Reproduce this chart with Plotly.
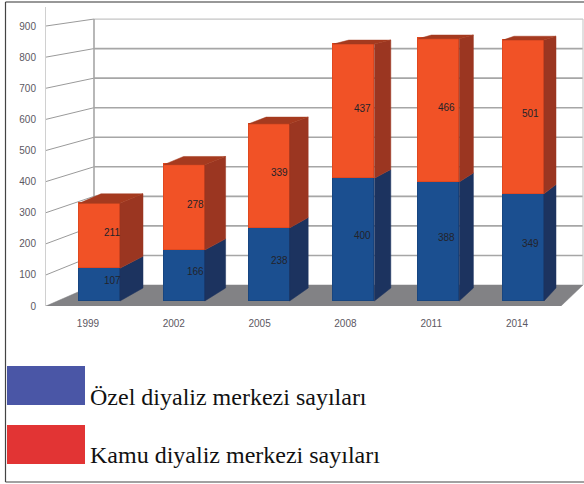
import plotly.graph_objects as go

years = ["1999", "2002", "2005", "2008", "2011", "2014"]
ozel = [107, 166, 238, 400, 388, 349]
kamu = [211, 278, 339, 437, 466, 501]
y_ticks = [0, 100, 200, 300, 400, 500, 600, 700, 800, 900]
legend_labels = ["Özel diyaliz merkezi sayıları", "Kamu diyaliz merkezi sayıları"]

W, H = 584, 484
BLUE, BLUE_SIDE = "#1b4f90", "#1c335f"
RED, RED_SIDE, RED_TOP = "#f15226", "#9b3621", "#a53a1f"
GRID = "#a6a6a6"
TICK = "#5c5862"
BAR_W = 41 / 84.8

FRONT_0, FRONT_K = 306, 0.3111   # axis plane: pixel of 0, pixels per unit
BACK_0, BACK_K = 285, 0.2955     # back wall
BAR_0, BAR_K = 301, 0.307        # front of the bars
Y_MAX = 960

def ix(px):
    return (px - 99.5) / 84.8

def back_y(v):                   # back-wall height expressed on the axis scale
    return (FRONT_0 - (BACK_0 - BACK_K * v)) / FRONT_K

def depth_dx(i):
    return (23 - 2.2 * i) / 84.8

def depth_dy(v):
    return (13 - 0.0108 * v) / BAR_K

def px(x): return x / W
def py(y): return 1 - y / H

fig = go.Figure()

def poly(xs, ys, color, yaxis):
    fig.add_trace(go.Scatter(x=xs, y=ys, mode="lines", fill="toself", fillcolor=color,
                             line=dict(color=color, width=0.5), yaxis=yaxis, xaxis="x",
                             hoverinfo="skip", showlegend=False))

def line(xs, ys, color=GRID, width=1.6):
    fig.add_trace(go.Scatter(x=xs, y=ys, mode="lines", line=dict(color=color, width=width),
                             yaxis="y", xaxis="x", hoverinfo="skip", showlegend=False))

# floor
xl, xr, xbr, xfr = ix(46), ix(94), ix(583), ix(561)
poly([xl, xfr, xbr, xr, xl], [0, 0, back_y(0), back_y(0), 0], "#828285", "y")

# walls and gridlines
for v in y_ticks:
    if v > 0:
        line([xl, xr], [v, back_y(v)], "#9a9a9a", 1)
        line([xr, xbr], [back_y(v), back_y(v)], "#c4c4c4" if v == 900 else GRID,
             1.2 if v == 900 else 1.6)
line([xr, xr], [back_y(0), back_y(900)], GRID, 1.6)
line([xbr, xbr], [back_y(0), back_y(900)], "#cccccc", 1.2)

# bars
idx = list(range(len(years)))
fig.add_trace(go.Bar(x=idx, y=ozel, width=BAR_W, marker=dict(color=BLUE, line=dict(color="#174580", width=1)),
                     yaxis="y2", xaxis="x", name=legend_labels[0], showlegend=False))
fig.add_trace(go.Bar(x=idx, y=kamu, width=BAR_W, marker=dict(color=RED, line=dict(color="#e0481f", width=1)),
                     yaxis="y2", xaxis="x", name=legend_labels[1], showlegend=False))

for i in idx:
    b0, b1, b2 = 0, ozel[i], ozel[i] + kamu[i]
    x1 = i + BAR_W / 2
    x0 = i - BAR_W / 2
    d = depth_dx(i)
    dl = d - 1 / 84.8
    poly([x1, x1 + d, x1 + d, x1, x1], [b0, b0 + depth_dy(b0), b1 + depth_dy(b1), b1, b0], BLUE_SIDE, "y2")
    poly([x1, x1 + d, x1 + d, x1, x1], [b1, b1 + depth_dy(b1), b2 + depth_dy(b2), b2, b1], RED_SIDE, "y2")
    poly([x0, x0 + dl, x1 + d, x1, x0], [b2, b2 + depth_dy(b2), b2 + depth_dy(b2), b2, b2], RED_TOP, "y2")

annotations = []
for i in idx:
    lx = i + (12.5 - 1.2 * i) / 84.8
    for base, val, shift in ((0, ozel[i], 4), (ozel[i], kamu[i], 3)):
        annotations.append(dict(x=lx, y=base + val / 2 + shift / BAR_K, xref="x", yref="y2", text=str(val),
                                showarrow=False, font=dict(family="Liberation Sans", size=10, color="#23232a")))

# hand-made legend and frame
shapes = [
    dict(type="rect", xref="paper", yref="paper", x0=px(7), x1=px(85), y0=py(405), y1=py(366),
         fillcolor="#4a56a6", line_width=0),
    dict(type="rect", xref="paper", yref="paper", x0=px(7), x1=px(85), y0=py(464), y1=py(425),
         fillcolor="#e23434", line_width=0),
    dict(type="line", xref="paper", yref="paper", x0=px(5.5), x1=px(5.5), y0=py(2), y1=py(482),
         line=dict(color="#444444", width=1.2)),
    dict(type="line", xref="paper", yref="paper", x0=px(5.5), x1=1, y0=py(2), y1=py(2),
         line=dict(color="#333333", width=1.2)),
    dict(type="line", xref="paper", yref="paper", x0=px(5.5), x1=1, y0=py(482), y1=py(482),
         line=dict(color="#444444", width=1.2)),
]
for label, mid in zip(legend_labels, (397, 455)):
    annotations.append(dict(x=px(89), y=py(mid), xref="paper", yref="paper", xanchor="left", yanchor="middle",
                            text=label, showarrow=False, borderpad=0,
                            font=dict(family="Liberation Serif", size=24, color="#111111")))

y_dom = [(H - FRONT_0) / H, (H - FRONT_0 + Y_MAX * FRONT_K) / H]
# an overlaying axis shares the domain of the axis it overlays, so its range carries the shift
y2_low = -(FRONT_0 - BAR_0) / BAR_K
y2_high = y2_low + Y_MAX * FRONT_K / BAR_K

fig.update_layout(
    width=W, height=H, margin=dict(l=0, r=0, t=0, b=0, autoexpand=False), paper_bgcolor="white",
    plot_bgcolor="rgba(0,0,0,0)",
    barmode="stack", bargap=0, showlegend=False, shapes=shapes, annotations=annotations,
    xaxis=dict(domain=[46 / W, 1], range=[ix(46), ix(584)], showgrid=False, zeroline=False, showline=False,
               automargin=False,
               tickmode="array", tickvals=[i - 0.136 + 0.012 * i for i in idx], ticktext=years,
               ticks="outside", ticklen=8, tickcolor="rgba(0,0,0,0)",
               tickfont=dict(family="Liberation Sans", size=10, color=TICK)),
    yaxis=dict(domain=y_dom, range=[0, Y_MAX], showgrid=False, zeroline=False, showline=True, linecolor="#d0d0d0",
               linewidth=1, automargin=False, tickmode="array", tickvals=y_ticks,
               ticktext=[str(v) for v in y_ticks],
               ticks="outside", ticklen=7, tickcolor="rgba(0,0,0,0)",
               tickfont=dict(family="Liberation Sans", size=10, color=TICK)),
    yaxis2=dict(range=[y2_low, y2_high], overlaying="y", visible=False, anchor="x", automargin=False),
)
fig.write_html("out.html", post_script="document.body.style.margin='0';", config={"displayModeBar": False})
